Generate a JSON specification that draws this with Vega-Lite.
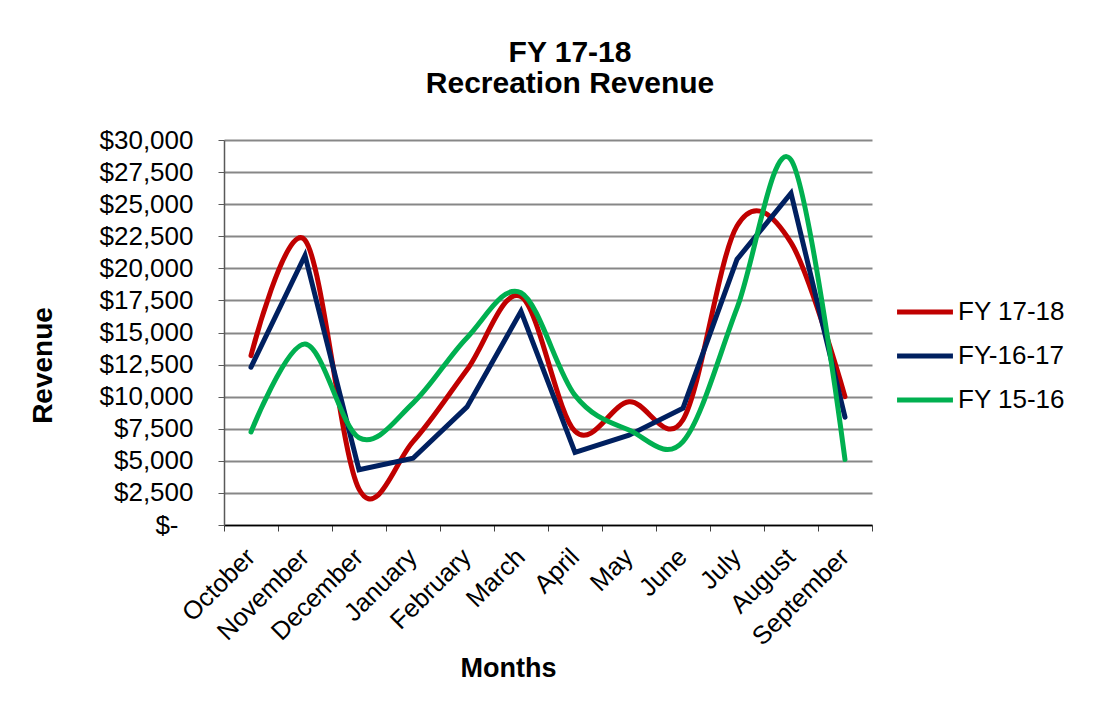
{
  "$schema": "https://vega.github.io/schema/vega-lite/v6.json",
  "autosize": "none",
  "width": 648,
  "height": 385,
  "padding": {"left": 224, "top": 140, "right": 232, "bottom": 186},
  "background": "white",
  "title": {
    "text": ["FY 17-18", "Recreation Revenue"],
    "font": "Liberation Sans",
    "fontSize": 30,
    "fontWeight": "bold",
    "color": "black",
    "lineHeight": 31,
    "anchor": "middle",
    "dx": 22,
    "offset": 28
  },
  "config": {
    "font": "Liberation Sans",
    "view": {"stroke": null},
    "axis": {"labelColor": "black", "titleColor": "black", "labelFont": "Liberation Sans", "titleFont": "Liberation Sans"}
  },
  "data": {
    "values": [
      {"month": "October", "series": "FY 17-18", "revenue": 13200},
      {"month": "November", "series": "FY 17-18", "revenue": 22200},
      {"month": "December", "series": "FY 17-18", "revenue": 2800},
      {"month": "January", "series": "FY 17-18", "revenue": 6500},
      {"month": "February", "series": "FY 17-18", "revenue": 12100},
      {"month": "March", "series": "FY 17-18", "revenue": 17800},
      {"month": "April", "series": "FY 17-18", "revenue": 7300},
      {"month": "May", "series": "FY 17-18", "revenue": 9600},
      {"month": "June", "series": "FY 17-18", "revenue": 8200},
      {"month": "July", "series": "FY 17-18", "revenue": 23300},
      {"month": "August", "series": "FY 17-18", "revenue": 22000},
      {"month": "September", "series": "FY 17-18", "revenue": 10000},
      {"month": "October", "series": "FY-16-17", "revenue": 12300},
      {"month": "November", "series": "FY-16-17", "revenue": 21000},
      {"month": "December", "series": "FY-16-17", "revenue": 4300},
      {"month": "January", "series": "FY-16-17", "revenue": 5200},
      {"month": "February", "series": "FY-16-17", "revenue": 9200},
      {"month": "March", "series": "FY-16-17", "revenue": 16650},
      {"month": "April", "series": "FY-16-17", "revenue": 5650},
      {"month": "May", "series": "FY-16-17", "revenue": 7000},
      {"month": "June", "series": "FY-16-17", "revenue": 9100},
      {"month": "July", "series": "FY-16-17", "revenue": 20700},
      {"month": "August", "series": "FY-16-17", "revenue": 25850},
      {"month": "September", "series": "FY-16-17", "revenue": 8400},
      {"month": "October", "series": "FY 15-16", "revenue": 7250},
      {"month": "November", "series": "FY 15-16", "revenue": 14100},
      {"month": "December", "series": "FY 15-16", "revenue": 6800},
      {"month": "January", "series": "FY 15-16", "revenue": 9500},
      {"month": "February", "series": "FY 15-16", "revenue": 14600},
      {"month": "March", "series": "FY 15-16", "revenue": 18100},
      {"month": "April", "series": "FY 15-16", "revenue": 10100},
      {"month": "May", "series": "FY 15-16", "revenue": 7400},
      {"month": "June", "series": "FY 15-16", "revenue": 6500},
      {"month": "July", "series": "FY 15-16", "revenue": 16900},
      {"month": "August", "series": "FY 15-16", "revenue": 28450},
      {"month": "September", "series": "FY 15-16", "revenue": 5100}
    ]
  },
  "encoding": {
    "x": {
      "field": "month",
      "type": "ordinal",
      "bandPosition": 0.5,
      "sort": ["October", "November", "December", "January", "February", "March", "April", "May", "June", "July", "August", "September"],
      "scale": {"type": "band", "paddingInner": 0, "paddingOuter": 0},
      "axis": {
        "title": "Months",
        "titleFontSize": 27,
        "titleFontWeight": "bold",
        "titleX": 284,
        "titleY": 143,
        "titleBaseline": "middle",
        "labelAngle": -45,
        "labelFontSize": 25.5,
        "labelPadding": 13,
        "labelOffset": -9,
        "tickBand": "extent",
        "tickSize": 6,
        "tickColor": "#404040",
        "domainColor": "black",
        "domainWidth": 1.5,
        "grid": false
      }
    },
    "y": {
      "field": "revenue",
      "type": "quantitative",
      "scale": {"domain": [0, 30000], "nice": false},
      "axis": {
        "title": "Revenue",
        "titleFontSize": 28,
        "titleFontWeight": "bold",
        "titleX": -181,
        "titleY": 225,
        "titleBaseline": "middle",
        "values": [0, 2500, 5000, 7500, 10000, 12500, 15000, 17500, 20000, 22500, 25000, 27500, 30000],
        "labelExpr": "datum.value === 0 ? '$-' : '$' + format(datum.value, ',')",
        "labelFontSize": 26,
        "labelPadding": {"condition": {"test": "datum.value === 0", "value": 40}, "value": 25},
        "tickSize": 6,
        "tickColor": "#595959",
        "domainColor": "#595959",
        "domainWidth": 1.5,
        "grid": true,
        "gridColor": "#878787",
        "gridWidth": 2
      }
    },
    "color": {
      "field": "series",
      "type": "nominal",
      "scale": {"domain": ["FY 17-18", "FY-16-17", "FY 15-16"], "range": ["#C00000", "#002060", "#00B050"]},
      "legend": {
        "title": null,
        "orient": "none",
        "legendX": 677,
        "legendY": 148,
        "padding": 0,
        "rowPadding": 7,
        "symbolType": "M-1.3,0H1.3",
        "symbolSize": 1849,
        "symbolStrokeWidth": 5,
        "labelFontSize": 26,
        "labelColor": "black",
        "labelOffset": 9
      }
    }
  },
  "layer": [
    {
      "transform": [{"filter": "datum.series === 'FY 17-18'"}],
      "mark": {"type": "line", "interpolate": "cardinal", "tension": 0, "strokeWidth": 5, "strokeCap": "round", "strokeJoin": "round"}
    },
    {
      "transform": [{"filter": "datum.series === 'FY-16-17'"}],
      "mark": {"type": "line", "interpolate": "linear", "strokeWidth": 5, "strokeCap": "round", "strokeJoin": "miter"}
    },
    {
      "transform": [{"filter": "datum.series === 'FY 15-16'"}],
      "mark": {"type": "line", "interpolate": "cardinal", "tension": 0, "strokeWidth": 5, "strokeCap": "round", "strokeJoin": "round"}
    }
  ]
}
